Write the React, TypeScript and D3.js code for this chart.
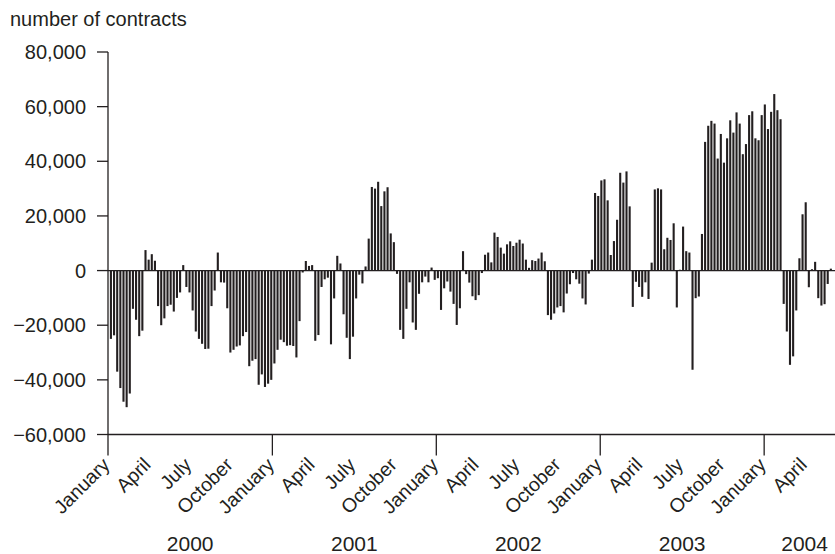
import React from "react";
import * as d3 from "d3";

// Weekly net position, thousands of contracts, first week starting 4 Jan 2000
const netPositionK: number[] = [
  -25, -23.7, -37, -43, -48, -50, -45, -14, -18, -24,
  -22, 7.5, 4, 6, 3.6, -13, -20, -17.5, -13, -12.5,
  -15, -10, -8, 2, -6, -8, -14.6, -22.3, -25, -26.8,
  -28.7, -28.6, -13, -7.3, 6.6, -4.3, -4.4, -13.8, -30, -29,
  -27.8, -27.4, -24, -22.5, -35, -33, -32.4, -41.8, -38, -42.6,
  -41.4, -40, -34, -29, -25.3, -26.2, -27.5, -27.3, -27.6, -31.8,
  -18.5, -0.7, 3.5, 1.7, 2, -25.7, -23.6, -6, -3.2, -2.6,
  -27, -10.2, 5.4, 2.6, -16, -24.6, -32.4, -24.2, -10.2, -1.5,
  -4.7, 1.5, 11.7, 30.6, 30, 32.5, 23.6, 29, 30.5, 13.6,
  10.4, -1.2, -21.7, -25, -14, -4.3, -19, -21.7, -8.5, -4.3,
  -2.2, -4.3, 1.1, -3.4, -2.8, -14.4, -6.5, -4, -7.7, -12.2,
  -19.9, -13.8, 7.1, -1.3, -4.4, -9.4, -10.8, -9, -0.9, 5.8,
  6.6, 3, 13.9, 12.3, 8.4, 6.2, 9.6, 10.7, 9, 10.2,
  11.3, 9.9, 4, 1, 3.8, 3.5, 4.4, 6.6, 3.4, -16.3,
  -18, -15.7, -13.5, -13, -15.3, -8.4, -5, -0.9, -3.2, -4.8,
  -10.2, -12.4, -1.1, 4, 28.4, 27.3, 33, 33.4, 25.7, 5.7,
  10.8, 18.6, 35.8, 32.2, 36.3, 23.5, -13.3, -4.1, -6, -9.6,
  -4.3, -10.4, 2.9, 29.7, 30.1, 29.7, 7.8, 12, 11.2, 17.3,
  -13.5, 0.3, 16.1, 7.1, 6.6, -36.3, -10.1, -9.5, 13.4, 47.1,
  53, 54.8, 53.8, 41, 50, 39.5, 48.4, 55, 50.5, 57.9,
  53.8, 42.6, 46.3, 56.9, 58.3, 48.4, 47.7, 56.9, 60.8, 51.8,
  58.1, 64.6, 58.7, 55.4, -12.2, -22.3, -34.5, -31.4, -14.6, 4.5,
  20.6, 25, -6.1, 0.5, 3.2, -10.1, -12.8, -12.3, -4.9, 0.7,
];

const yTicks: number[] = [-60000, -40000, -20000, 0, 20000, 40000, 60000, 80000];
const years: number[] = [2000, 2001, 2002, 2003, 2004];
const monthNames: string[] = ["January", "April", "July", "October"];
const yAxisTitle = "number of contracts";

const W = 835;
const H = 554;
const FONT = "'Liberation Sans', Arial, Helvetica, sans-serif";
const INK = "#231f20";
const DAY = 24 * 3600 * 1000;

export default function App() {
  const left = 108;
  const right = 845; // plot runs slightly past the visible edge
  const top = 52;
  const bottom = 434.5;

  const start = new Date(2000, 0, 1);
  const end = new Date(2004, 5, 29);
  const x = d3.scaleTime().domain([start, end]).range([left, right]);
  const y = d3.scaleLinear().domain([-60000, 80000]).range([bottom, top]);

  const firstWeek = new Date(2000, 0, 4);
  const bars = netPositionK.map((v, i) => {
    const d = d3.timeDay.offset(firstWeek, 7 * i);
    return { date: d, value: v * 1000 };
  });
  const barW = 2.1;
  const fmt = d3.format(",");

  const quarterTicks = d3
    .timeMonth.every(3)!
    .range(start, new Date(2004, 4, 1))
    .filter((d) => d.getMonth() % 3 === 0);

  const yearStarts = years.map((yr) => new Date(yr, 0, 1));

  return (
    <svg
      width={W}
      height={H}
      style={{ position: "absolute", left: 0, top: 0, background: "#fff" }}
      fontFamily={FONT}
    >
      <text x={10} y={26} fontSize={20} fill={INK}>
        {yAxisTitle}
      </text>

      {/* bars */}
      <g fill={INK}>
        {bars.map((b, i) => {
          const cx = x(new Date(b.date.getTime() + 3.5 * DAY));
          const y0 = y(0);
          const y1 = y(b.value);
          return (
            <rect
              key={i}
              x={cx - barW / 2}
              y={Math.min(y0, y1)}
              width={barW}
              height={Math.max(0.6, Math.abs(y1 - y0))}
            />
          );
        })}
      </g>

      {/* zero line */}
      <line x1={left} x2={right} y1={y(0)} y2={y(0)} stroke={INK} strokeWidth={1.3} />

      {/* y axis */}
      <line x1={left} x2={left} y1={top} y2={bottom} stroke={INK} strokeWidth={1.3} />
      {yTicks.map((t) => (
        <g key={t}>
          <line x1={left - 11} x2={left} y1={y(t)} y2={y(t)} stroke={INK} strokeWidth={1.3} />
          <text
            x={86}
            y={y(t)}
            dy="0.36em"
            textAnchor="end"
            fontSize={20}
            fill={INK}
          >
            {t < 0 ? "\u2212" + fmt(-t) : fmt(t)}
          </text>
        </g>
      ))}

      {/* x axis */}
      <line x1={left} x2={right} y1={bottom} y2={bottom} stroke={INK} strokeWidth={1.3} />
      {yearStarts.map((d, i) => (
        <line
          key={i}
          x1={x(d)}
          x2={x(d)}
          y1={bottom}
          y2={bottom + 21}
          stroke={INK}
          strokeWidth={1.3}
        />
      ))}
      {quarterTicks.map((d, i) => (
        <text
          key={i}
          transform={`translate(${x(d) + 3},${466}) rotate(-45)`}
          textAnchor="end"
          fontSize={19.5}
          fill={INK}
        >
          {monthNames[d.getMonth() / 3]}
        </text>
      ))}
      {yearStarts.map((d, i) => {
        const next = i < yearStarts.length - 1 ? yearStarts[i + 1] : end;
        const mid = (x(d) + x(next)) / 2;
        return (
          <text
            key={i}
            x={mid}
            y={551}
            textAnchor="middle"
            fontSize={21}
            fill={INK}
          >
            {years[i]}
          </text>
        );
      })}
    </svg>
  );
}
